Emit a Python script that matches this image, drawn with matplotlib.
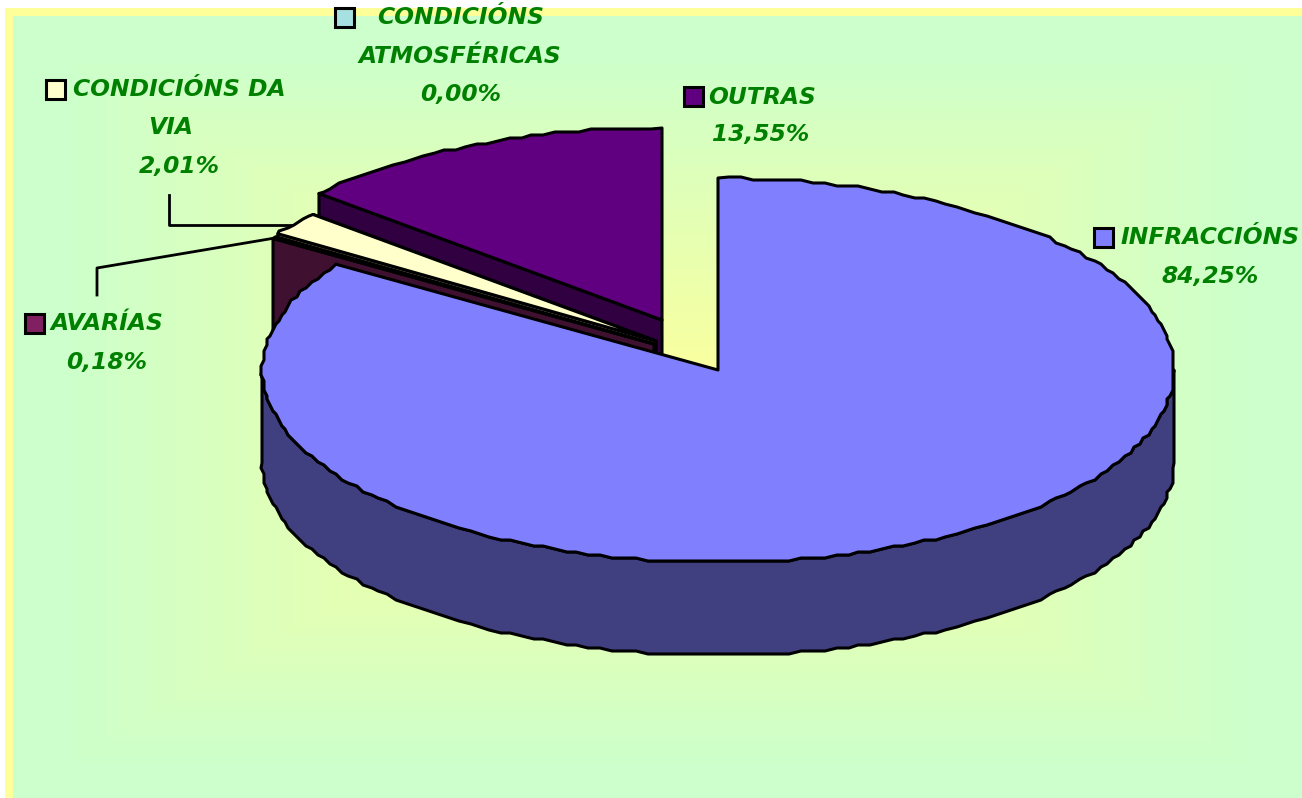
import numpy as np
import matplotlib
matplotlib.use('Agg')
from matplotlib import pyplot as plt
from matplotlib.patches import Rectangle

# clockwise from the top of the pie
names = ['INFRACCIÓNS', 'AVARÍAS', 'CONDICIÓNS DA VIA', 'CONDICIÓNS ATMOSFÉRICAS', 'OUTRAS']
values = [84.25, 0.18, 2.01, 0.00, 13.55]
top_colors = ['#8080FF', '#802060', '#FFFFCC', '#A6E0E0', '#600080']
side_colors = ['#404080', '#401030', '#808066', '#537070', '#300040']
label_lines = [['INFRACCIÓNS'], ['AVARÍAS'], ['CONDICIÓNS DA', 'VIA'],
               ['CONDICIÓNS', 'ATMOSFÉRICAS'], ['OUTRAS']]

W, H = 1302, 798
rx, ry, depth = 456.0, 192.0, 93.0
# each slice is pulled out on its own
centres = [(718, 370), (654, 344), (656, 341), (656, 341), (662, 320)]
# order to paint, back slices first
paint_order = [4, 3, 2, 1, 0]
# y of the first line, y step, legend key x,y
label_pos = {0: (237, 39, 1094, 228),
             1: (323, 40, 25, 314),
             2: (89, 39, 46, 80),
             3: (18, 38.5, 335, 8),
             4: (97, 38, 684, 87)}
text_x = {2: [179, 171, 179], 0: [1210, 1210], 1: [107, 107], 3: [461, 460, 461], 4: [762, 761]}
text_green = '#008000'
line_w = 2.2
arc_step = 1.5
snap = 3.0


def point(c, ang):
    a = np.radians(ang)
    return c[0] + rx * np.sin(a), c[1] - ry * np.cos(a)


def rough_arc(c, a0, a1):
    # the curve in the original is a little stepped, snap it to a small grid
    inner = np.arange(np.ceil(a0 / arc_step), np.floor(a1 / arc_step) + 1) * arc_step
    inner = inner[(inner > a0) & (inner < a1)]
    ix, iy = point(c, inner)
    sx, sy = point(c, np.array([a0, a1]))
    xs = np.r_[sx[0], np.round(ix / snap) * snap, sx[1]]
    ys = np.r_[sy[0], np.round(iy / snap) * snap, sy[1]]
    return xs, ys


fig = plt.figure(figsize=(W / 100, H / 100), dpi=100, facecolor='white')
ax = fig.add_axes([0, 0, 1, 1])

# frame and rectangular gradient behind the chart
ax.add_patch(Rectangle((5, 8), W, H, fc='#FFFF99', ec='none', zorder=0))
xx, yy = np.meshgrid(np.arange(13, W), np.arange(16, H))
t = np.maximum(np.abs(xx - 658) / 600.0, np.abs(yy - 410) / 360.0).clip(0, 1)
bg = np.zeros(t.shape + (3,))
bg[..., 0] = (255 - 51 * t) / 255
bg[..., 1] = 1.0
bg[..., 2] = (153 + 51 * t) / 255
ax.imshow(bg, extent=(13, W, H, 16), aspect='auto', zorder=1, interpolation='bilinear')
ax.set_xlim(0, W)
ax.set_ylim(H, 0)
ax.axis('off')

total = float(np.sum(values))
ends = np.cumsum(values) / total * 360
starts = np.concatenate(([0], ends[:-1]))

z = 2
for i in paint_order:
    c = centres[i]
    a0, a1 = starts[i], ends[i]
    # cut face on the left side
    if np.sin(np.radians(a0)) < -0.01:
        p = point(c, a0)
        ax.fill([c[0], p[0], p[0], c[0]], [c[1], p[1], p[1] + depth, c[1] + depth],
                fc=side_colors[i], ec='k', lw=line_w, joinstyle='round', zorder=z)
        z += 1
    # rim, only the part at the front
    f0, f1 = max(a0, 90), min(a1, 270)
    if f1 > f0:
        xs, ys = rough_arc(c, f0, f1)
        ax.fill(np.r_[xs, xs[::-1]], np.r_[ys, ys[::-1] + depth],
                fc=side_colors[i], ec='k', lw=line_w, joinstyle='round', zorder=z)
        z += 1
    # top of the slice
    xs, ys = rough_arc(c, a0, a1)
    ax.fill(np.r_[c[0], xs], np.r_[c[1], ys], fc=top_colors[i], ec='k', lw=line_w,
            joinstyle='round', zorder=z)
    z += 1

# leader lines
ax.plot([169, 169, 293], [195, 225, 225], color='k', lw=2, zorder=1.5)
ax.plot([97, 97, 275], [295, 268, 238], color='k', lw=2, zorder=1.5)

for i in range(len(names)):
    y, step, kx, ky = label_pos[i]
    lines = label_lines[i] + [('%.2f%%' % values[i]).replace('.', ',')]
    for j, s in enumerate(lines):
        ax.text(text_x[i][j], y + j * step, s, color=text_green, fontsize=16.8,
                fontweight='bold', fontstyle='italic', family='DejaVu Sans',
                ha='center', va='center', zorder=60)
    ax.add_patch(Rectangle((kx, ky), 19, 19, fc=top_colors[i], ec='k', lw=2.2, zorder=60))

fig.savefig('out.png', dpi=100)
